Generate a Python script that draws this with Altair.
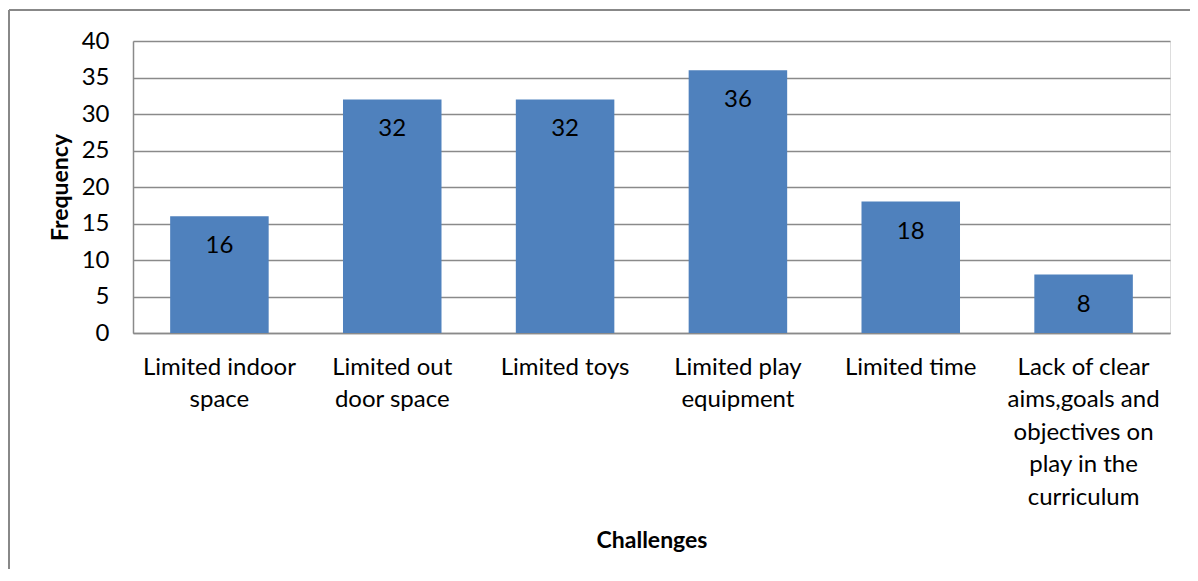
import altair as alt
import pandas as pd

categories = [
    "Limited indoor\nspace",
    "Limited out\ndoor space",
    "Limited toys",
    "Limited play\nequipment",
    "Limited time",
    "Lack of clear\naims,goals and\nobjectives on\nplay in the\ncurriculum",
]
frequency = [16, 32, 32, 36, 18, 8]
y_ticks = [0, 5, 10, 15, 20, 25, 30, 35, 40]

df = pd.DataFrame({"Challenge": categories, "Frequency": frequency})

FONT = "Lato"
FS = 24
GRID = "#8a8a8a"

x_enc = alt.X(
    "Challenge:N",
    sort=categories,
    scale=alt.Scale(paddingInner=0.43, paddingOuter=0.215),
    axis=alt.Axis(
        title="Challenges",
        titleFont=FONT, titleFontSize=FS - 1, titleFontWeight="bold", titleColor="black",
        titlePadding=20,
        labelExpr="split(datum.label, '\\n')",
        labelFont=FONT, labelFontSize=FS, labelColor="black",
        labelAngle=0, labelPadding=22, labelLineHeight=32.5,
        labelBaseline="top",
        ticks=False, domainColor=GRID, domainWidth=1.5,
    ),
)
y_enc = alt.Y(
    "Frequency:Q",
    scale=alt.Scale(domain=[0, 40]),
    axis=alt.Axis(
        title="Frequency",
        titleFont=FONT, titleFontSize=FS - 1, titleFontWeight="bold", titleColor="black",
        titlePadding=9,
        values=y_ticks, labelOverlap=False,
        labelFont=FONT, labelFontSize=FS, labelColor="black", labelPadding=24,
        ticks=False, domainColor=GRID, domainWidth=1.5,
        grid=True, gridColor=GRID, gridWidth=1.5,
    ),
)

base = alt.Chart(df)
bars = base.mark_bar(color="#4F81BD").encode(x=x_enc, y=y_enc)
labels = base.mark_text(
    font=FONT, fontSize=FS, color="black", baseline="middle", dy=30
).encode(x=x_enc, y=y_enc, text="Frequency:Q")

frame_df = pd.DataFrame({"k": [0]})
left_border = alt.Chart(frame_df).mark_rule(color="#888888", strokeWidth=2).encode(
    x=alt.value(-124), y=alt.value(-31), y2=alt.value(600)
)
top_border = alt.Chart(frame_df).mark_rule(color="#888888", strokeWidth=2).encode(
    x=alt.value(-124), x2=alt.value(1100), y=alt.value(-31)
)

chart = alt.layer(bars, labels, left_border, top_border).properties(
    width=1037,
    height=292,
    autosize=alt.AutoSizeParams(type="none"),
    padding={"left": 125, "top": 33, "right": 20, "bottom": 236},
).configure_view(stroke=None).configure(background="white")

chart.save("out.html", embed_options={"renderer": "svg", "actions": False})
